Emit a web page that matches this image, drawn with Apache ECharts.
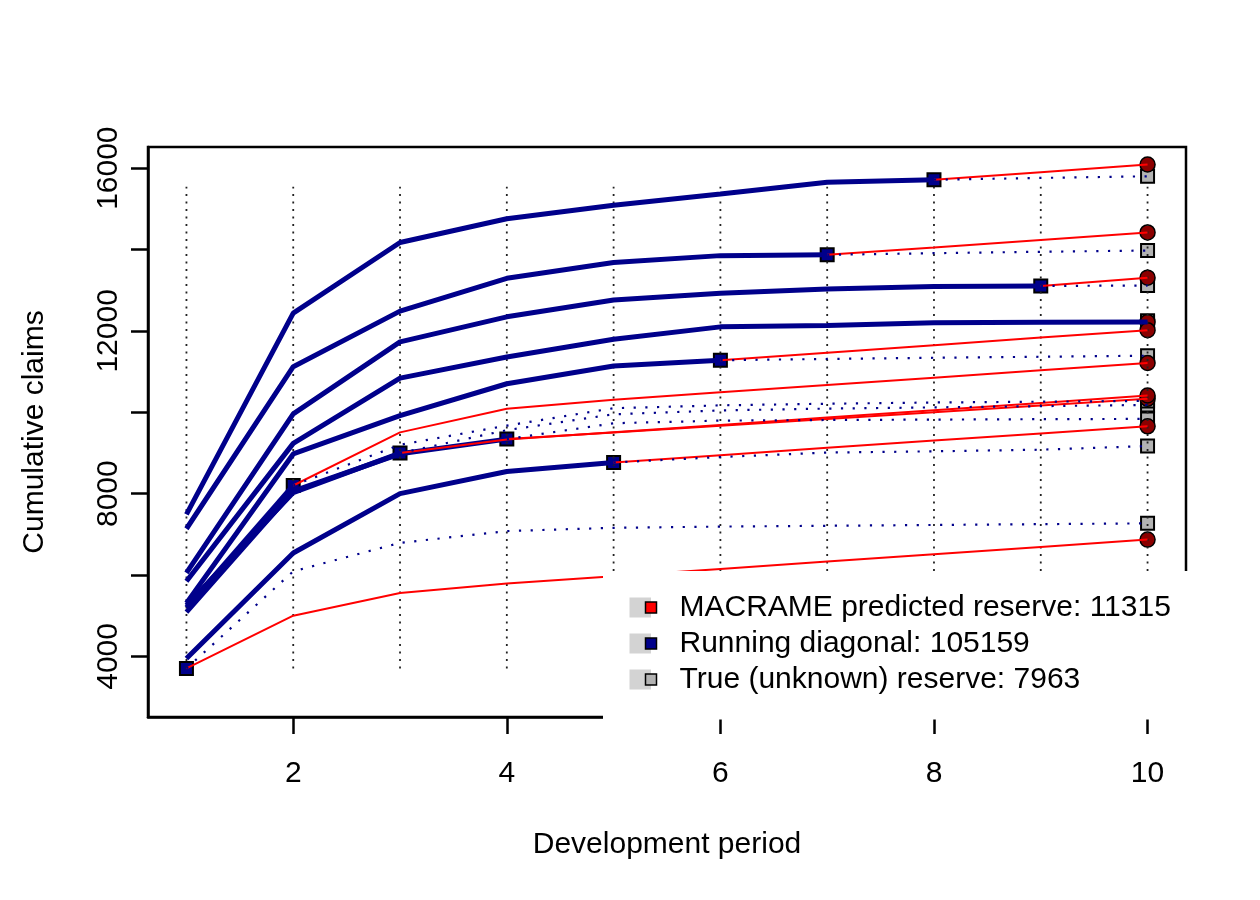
<!DOCTYPE html>
<html>
<head>
<meta charset="utf-8">
<script src="https://cdn.jsdelivr.net/npm/echarts@6.0.0/dist/echarts.min.js"></script>
<style>
html, body { margin: 0; padding: 0; background: #fff; }
#chart { width: 1260px; height: 900px; }
</style>
</head>
<body>
<div id="chart"></div>
<script>
// development periods
var periods = [1, 2, 3, 4, 5, 6, 7, 8, 9, 10];

// observed cumulative claims, one row per origin year (up to the diagonal)
var observed = [
    [5845, 9235, 10840, 11358, 11795, 12099, 12133, 12198, 12215, 12220],
    [6050, 9962, 11729, 12346, 12758, 12923, 13030, 13090, 13105],
    [7490, 12437, 14173, 14758, 15086, 15367, 15654, 15715],
    [7137, 11120, 12486, 13293, 13680, 13850, 13870],
    [5310, 8975, 9919, 10701, 11136, 11280],
    [3950, 6540, 8000, 8543, 8766],
    [5087, 8060, 8980, 9340],
    [5250, 8025, 8997],
    [5200, 8200],
    [3704]
]

// MACRAME predictions, from the diagonal to period 10
var predicted = [
    [12220],
    [13105, 13309],
    [15715, 15900, 16090],
    [13870, 14050, 14235, 14420],
    [11280, 11465, 11650, 11835, 12017],
    [8766, 8945, 9125, 9305, 9480, 9655],
    [9340, 9505, 9670, 9835, 10000, 10165, 10330],
    [8997, 9330, 9510, 9690, 9870, 10050, 10230, 10412],
    [8200, 9506, 10084, 10306, 10490, 10670, 10850, 11030, 11210],
    [3704, 5000, 5560, 5790, 5970, 6150, 6330, 6510, 6690, 6870]
]

// true (unknown) future claims, from the diagonal to period 10
var actual = [
    [12250],
    [13105, 13115],
    [15715, 15760, 15800],
    [13870, 13910, 13945, 13975],
    [11280, 11310, 11340, 11365, 11390],
    [8766, 8900, 9010, 9040, 9080, 9170],
    [9340, 9730, 9795, 9810, 9820, 9830, 9837],
    [8997, 9560, 9950, 10045, 10090, 10120, 10150, 10180],
    [8200, 9200, 9672, 10100, 10170, 10210, 10240, 10260, 10280],
    [3704, 6090, 6790, 7080, 7160, 7190, 7210, 7230, 7250, 7270]
]

var guideLow = 3700
var guideHigh = 15540

var xTicks = [2, 4, 6, 8, 10]
var yTicks = [4000, 6000, 8000, 10000, 12000, 14000, 16000]
var yLabels = [4000, 8000, 12000, 16000]

var legendLabels = [
    'MACRAME predicted reserve: 11315',
    'Running diagonal: 105159',
    'True (unknown) reserve: 7963'
]

var FONT = '"Liberation Sans", Helvetica, Arial, sans-serif'
var DARKBLUE = '#00008B'

var chart = echarts.init(document.getElementById('chart'))

var series = []

// vertical dotted guides
periods.forEach(function (p) {
    series.push({
        type: 'line',
        data: [[p, guideLow], [p, guideHigh]],
        symbol: 'none',
        silent: true,
        lineStyle: { color: '#222', width: 1.8, type: [2, 5.5] }
    })
})

// observed triangle
observed.forEach(function (row) {
    series.push({
        type: 'line',
        data: row.map(function (v, k) { return [periods[k], v] }),
        symbol: 'none',
        lineStyle: { color: DARKBLUE, width: 5 }
    })
})

// predicted
predicted.forEach(function (row, i) {
    var start = observed[i].length - 1
    series.push({
        type: 'line',
        data: row.map(function (v, k) { return [periods[start + k], v] }),
        symbol: 'none',
        lineStyle: { color: '#ff0000', width: 2 }
    })
})

// true future
actual.forEach(function (row, i) {
    var start = observed[i].length - 1
    series.push({
        type: 'line',
        data: row.map(function (v, k) { return [periods[start + k], v] }),
        symbol: 'none',
        lineStyle: { color: DARKBLUE, width: 2.2, type: [2.2, 9.5] }
    })
})

series.push({
    type: 'scatter',
    symbol: 'rect',
    symbolSize: 13,
    data: observed.map(function (row) { return [periods[row.length - 1], row[row.length - 1]] }),
    itemStyle: { color: DARKBLUE, borderColor: '#000', borderWidth: 2, opacity: 1 }
})
series.push({
    type: 'scatter',
    symbol: 'rect',
    symbolSize: 13,
    data: actual.map(function (row) { return [10, row[row.length - 1]] }),
    itemStyle: { color: '#b3b3b3', borderColor: '#000', borderWidth: 2, opacity: 1 }
})
series.push({
    type: 'scatter',
    symbol: 'circle',
    symbolSize: 15,
    data: predicted.map(function (row) { return [10, row[row.length - 1]] }),
    itemStyle: { color: '#8B0000', borderColor: '#000', borderWidth: 1.5, opacity: 1 }
})

// legend drawn by hand (R style: grey fill box with point on it)
var legendFill = ['#ff0000', DARKBLUE, '#b3b3b3']
var legendItems = [{
    type: 'rect',
    shape: { x: 603, y: 571, width: 587, height: 148.5 },
    style: { fill: '#fff' },
    z: 100
}]
legendLabels.forEach(function (txt, i) {
    var cy = 607.5 + i * 36
    legendItems.push({
        type: 'rect',
        shape: { x: 629.5, y: cy - 10, width: 21.5, height: 20 },
        style: { fill: '#d3d3d3' },
        z: 101
    })
    legendItems.push({
        type: 'rect',
        shape: { x: 645.5, y: cy - 5.5, width: 11, height: 11 },
        style: { fill: legendFill[i], stroke: '#000', lineWidth: 1.5 },
        z: 102
    })
    legendItems.push({
        type: 'text',
        x: 679.5,
        y: cy,
        style: { text: txt, font: '30px ' + FONT, fill: '#000', verticalAlign: 'middle', align: 'left' },
        z: 102
    })
})

var plainNum = function (v) { return String(v) }

var option = {
    backgroundColor: '#fff',
    animation: false,
    textStyle: { fontFamily: FONT },
    grid: {
        left: 148, right: 74, top: 147, bottom: 183,
        show: true, borderColor: '#000', borderWidth: 2.5, backgroundColor: 'transparent'
    },
    xAxis: {
        type: 'value',
        min: 0.64,
        max: 10.36,
        axisLine: { show: true, onZero: false, lineStyle: { color: '#000', width: 2.5 } },
        splitLine: { show: false },
        axisTick: { show: true, customValues: xTicks, length: 17, lineStyle: { color: '#000', width: 2.5 } },
        axisLabel: { customValues: xTicks, formatter: plainNum, fontSize: 30, color: '#000', margin: 42, fontFamily: FONT },
        name: 'Development period',
        nameLocation: 'middle',
        nameGap: 113,
        nameTextStyle: { fontSize: 30, color: '#000', fontFamily: FONT }
    },
    yAxis: {
        type: 'value',
        min: 2510,
        max: 16520,
        axisLine: { show: true, onZero: false, lineStyle: { color: '#000', width: 2.5 } },
        splitLine: { show: false },
        axisTick: { show: true, customValues: yTicks, length: 17, lineStyle: { color: '#000', width: 2.5 } },
        axisLabel: { customValues: yLabels, formatter: plainNum, fontSize: 30, color: '#000', rotate: 90, margin: 24, fontFamily: FONT },
        name: 'Cumulative claims',
        nameLocation: 'middle',
        nameRotate: 90,
        nameGap: 98,
        nameTextStyle: { fontSize: 30, color: '#000', fontFamily: FONT }
    },
    graphic: { elements: legendItems },
    series: series
}

chart.setOption(option)
</script>
</body>
</html>
